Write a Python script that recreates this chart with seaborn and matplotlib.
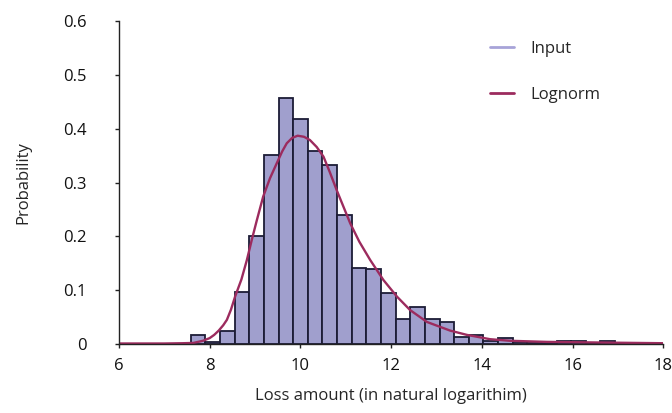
import numpy as np
import pandas as pd
import matplotlib
matplotlib.use("Agg")
import matplotlib.pyplot as plt
import seaborn as sns
from matplotlib.lines import Line2D

# ---- histogram of log losses (bin heights) ----
bin_start = 7.585
bin_width = 0.3225
bin_heights = [0.017, 0.003, 0.025, 0.096, 0.201, 0.352, 0.457, 0.418, 0.359, 0.333,
               0.240, 0.142, 0.140, 0.095, 0.046, 0.068, 0.047, 0.041, 0.013, 0.016,
               0.005, 0.011, 0.003, 0.002, 0.002, 0.006, 0.006, 0.002, 0.006, 0.001]

# ---- fitted lognormal curve ----
curve_x = [6.0, 6.5, 7.0, 7.4, 7.64, 7.85, 8.0, 8.1, 8.2, 8.3, 8.38, 8.47, 8.56, 8.7,
           8.82, 8.93, 9.04, 9.18, 9.33, 9.48, 9.6, 9.7, 9.82, 9.94, 10.08, 10.21,
           10.36, 10.51, 10.65, 10.8, 10.95, 11.1, 11.3, 11.54, 11.83, 12.13, 12.42,
           12.79, 13.3, 13.67, 14.18, 14.63, 15.43, 16.9, 18.0]
curve_y = [0.001, 0.001, 0.001, 0.0015, 0.002, 0.006, 0.011, 0.017, 0.025, 0.035, 0.045,
           0.064, 0.088, 0.12, 0.156, 0.194, 0.23, 0.274, 0.308, 0.336, 0.358, 0.373,
           0.383, 0.387, 0.385, 0.379, 0.366, 0.348, 0.319, 0.286, 0.255, 0.224, 0.19,
           0.156, 0.119, 0.088, 0.063, 0.041, 0.025, 0.017, 0.009, 0.006, 0.004, 0.0025,
           0.0015]

n_bins = len(bin_heights)
edges = [bin_start + bin_width * i for i in range(n_bins + 1)]
hist_df = pd.DataFrame({"x": [e + bin_width / 2 for e in edges[:-1]], "p": bin_heights})
curve_df = pd.DataFrame({"x": curve_x, "y": curve_y})

sns.set_style("ticks")
plt.rcParams["font.family"] = ["Open Sans", "DejaVu Sans"]

bar_col = "#a09fcd"
edge_col = "#1c1c36"
line_col = "#9c2b5e"

fig = plt.figure(figsize=(6.72, 4.13), dpi=100)
ax = fig.add_axes([0.177, 0.167, 0.81, 0.782])

sns.histplot(data=hist_df, x="x", weights="p", bins=edges, stat="count",
             color=bar_col, edgecolor=edge_col, linewidth=1.3, alpha=1, ax=ax)
sns.lineplot(data=curve_df, x="x", y="y", color=line_col, linewidth=1.7, ax=ax)

ax.set_xlim(6, 18)
ax.set_ylim(0, 0.6)
ax.set_xticks(range(6, 19, 2))
ax.set_yticks([0, 0.1, 0.2, 0.3, 0.4, 0.5, 0.6])
ax.set_yticklabels(["0", "0.1", "0.2", "0.3", "0.4", "0.5", "0.6"])
ax.tick_params(axis="both", labelsize=12, length=3, width=1, color="#222222",
               colors="#111111")
ax.tick_params(axis="x", pad=7)
ax.tick_params(axis="y", pad=20)
for s in ["top", "right"]:
    ax.spines[s].set_visible(False)
for s in ["left", "bottom"]:
    ax.spines[s].set_linewidth(1)
    ax.spines[s].set_color("#222222")

ax.set_xlabel("Loss amount (in natural logarithim)", fontsize=12, labelpad=10)
ax.set_ylabel("Probability", fontsize=12, labelpad=23)

handles = [Line2D([], [], color="#a7a3d8", lw=2),
           Line2D([], [], color=line_col, lw=2)]
ax.legend(handles, ["Input", "Lognorm"], loc="upper left",
          bbox_to_anchor=(0.655, 0.985), frameon=False, fontsize=12,
          labelspacing=1.8, handlelength=1.4, handletextpad=1.0)

fig.savefig("out.png", dpi=100)
